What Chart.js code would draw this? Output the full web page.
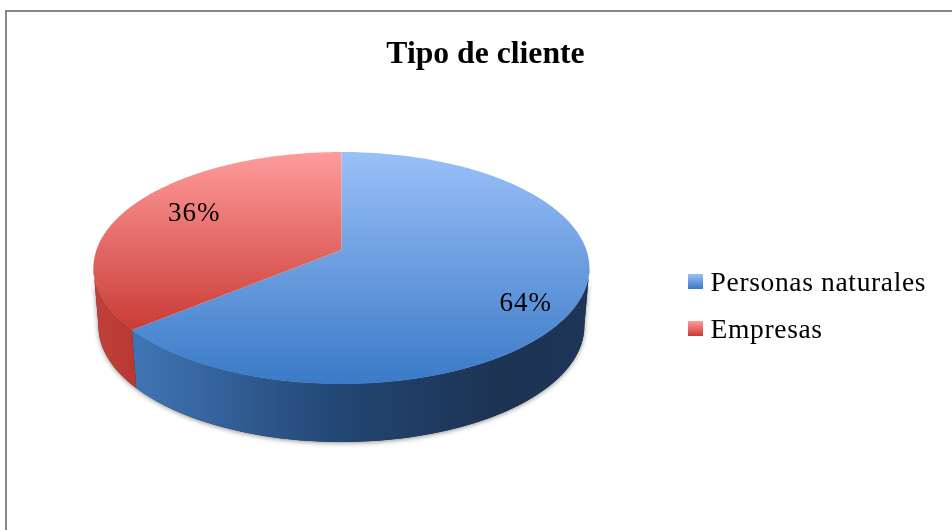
<!DOCTYPE html>
<html><head><meta charset="utf-8">
<script src="https://cdn.jsdelivr.net/npm/chart.js@4"></script>
<style>html,body{margin:0;padding:0;background:#fff}canvas{display:block}</style>
</head><body><canvas id="c" width="952" height="530"></canvas>
<script>
const titleText = "Tipo de cliente";
const categories = ["Personas naturales", "Empresas"];
const shares = [64, 36];
const topColors = [["#9AC0F8", "#3A7AC7"], ["#FF9C9C", "#C93A34"]];
const serif = '"Liberation Serif"';
const P = 0.155, R_TOP = 245, R_BOT = 240, A = 113.2, APEX_Y = 250, BOT_Y = 308;

function project(cx, rad, y0, th, r) {
  const s = Math.sin(th), c = Math.cos(th), d = 1 + P * r * c;
  return [cx + rad * r * s / d, y0 - A * r * c / d];
}
function swatch(cols) {
  const k = document.createElement("canvas"); k.width = 15; k.height = 19;
  const x = k.getContext("2d"), g = x.createLinearGradient(0, 0, 0, 15);
  g.addColorStop(0, cols[0]); g.addColorStop(1, cols[1]);
  x.fillStyle = g; x.fillRect(0, 0, 15, 15); return k;
}
function wallPath(ctx, cx, a, b) {
  const n = 80;
  ctx.beginPath();
  for (let i = 0; i <= n; i++) { const p = project(cx, R_TOP, APEX_Y, a + (b - a) * i / n, 1); i ? ctx.lineTo(p[0], p[1]) : ctx.moveTo(p[0], p[1]); }
  for (let i = n; i >= 0; i--) { const p = project(cx, R_BOT, BOT_Y, a + (b - a) * i / n, 1); ctx.lineTo(p[0], p[1]); }
  ctx.closePath();
}
const THL = Math.PI / 2 + Math.asin(P), THR = 3 * Math.PI / 2 - Math.asin(P);

const pie3d = {
  id: "pie3d",
  afterLayout(chart) {
    const lg = chart.legend, tb = chart.titleBlock;
    tb.left += 19; tb.right += 19;
    lg.left += 10.5; lg.right = 952; lg.top += 42; lg.bottom += 42;
    if (!lg._spaced) {
      lg._spaced = true;
      const d = lg.draw;
      lg.draw = function () { const c = this.ctx; c.letterSpacing = "0.65px"; d.apply(this, arguments); c.letterSpacing = "0px"; };
    }
  },
  afterDatasetsUpdate(chart) {
    chart.getDatasetMeta(0).data.forEach((el, i) => {
      el.draw = function (ctx) {
        const a = this.startAngle + Math.PI / 2, b = this.endAngle + Math.PI / 2, n = 160;
        const cx = this.x;
        const g = ctx.createLinearGradient(0, 152, 0, i === 0 ? 384 : 333);
        g.addColorStop(0, topColors[i][0]); g.addColorStop(1, topColors[i][1]);
        ctx.beginPath(); ctx.moveTo(cx, APEX_Y);
        for (let k = 0; k <= n; k++) { const p = project(cx, R_TOP, APEX_Y, a + (b - a) * k / n, 1); ctx.lineTo(p[0], p[1]); }
        ctx.closePath(); ctx.fillStyle = g; ctx.fill();
      };
    });
  },
  beforeDraw(chart) {
    const ctx = chart.ctx;
    ctx.save(); ctx.fillStyle = "#868686";
    ctx.fillRect(5, 10, 947, 2); ctx.fillRect(5, 10, 2, 520); ctx.restore();
  },
  beforeDatasetsDraw(chart) {
    const ctx = chart.ctx, arcs = chart.getDatasetMeta(0).data, cx = arcs[0].x;
    ctx.save();
    ctx.shadowColor = "rgba(0,0,0,0.45)"; ctx.shadowBlur = 5; ctx.shadowOffsetX = 0; ctx.shadowOffsetY = 1;
    wallPath(ctx, cx, THL, THR); ctx.fillStyle = "#223"; ctx.fill();
    ctx.restore();
    const blue = ctx.createLinearGradient(cx - 205, 0, cx + 245, 0);
    blue.addColorStop(0, "#3F74B4"); blue.addColorStop(0.45, "#234673"); blue.addColorStop(0.8, "#1C3354"); blue.addColorStop(1, "#1E3558");
    const red = ctx.createLinearGradient(cx - 248, 0, cx - 205, 0);
    red.addColorStop(0, "#C0413B"); red.addColorStop(1, "#B93732");
    const b0 = arcs[0].endAngle + Math.PI / 2;
    wallPath(ctx, cx, THL, b0); ctx.fillStyle = blue; ctx.fill();
    wallPath(ctx, cx, b0, THR); ctx.fillStyle = red; ctx.fill();
  },
  afterDatasetsDraw(chart) {
    const ctx = chart.ctx, arcs = chart.getDatasetMeta(0).data;
    const rr = [0.8, 0.68], dy = [13, -5], dx = [-3, -3];
    ctx.save();
    ctx.font = "27px " + serif; ctx.fillStyle = "#000"; ctx.textAlign = "center"; ctx.textBaseline = "middle";
    ctx.letterSpacing = "1px";
    arcs.forEach((el, i) => {
      const m = (el.startAngle + el.endAngle) / 2 + Math.PI / 2;
      const p = project(el.x, R_TOP, APEX_Y, m, rr[i]);
      ctx.fillText(shares[i] + "%", p[0] + dx[i], p[1] + dy[i]);
    });
    ctx.restore();
  }
};

new Chart(document.getElementById("c"), {
  type: "pie",
  data: { labels: categories, datasets: [{ data: shares, borderWidth: 0, backgroundColor: topColors.map(c => c[1]) }] },
  plugins: [pie3d],
  options: {
    responsive: false, animation: false, rotation: 0,
    layout: { padding: { left: 19, top: 0, right: 38, bottom: 0 } },
    plugins: {
      tooltip: { enabled: false },
      title: { display: true, text: titleText, color: "#000", font: { family: serif, size: 31.7, weight: "bold" }, padding: { top: 36, bottom: 6 } },
      legend: {
        display: true, position: "right",
        labels: {
          color: "#000", font: { family: serif, size: 27.5 }, padding: 19.5, boxWidth: 3, boxHeight: 15, usePointStyle: true,
          generateLabels: () => categories.map((t, i) => ({ text: t, pointStyle: swatch(topColors[i]), hidden: false, index: i, lineWidth: 0, fillStyle: topColors[i][1], strokeStyle: "transparent", fontColor: "#000" }))
        }
      }
    }
  }
});
</script></body></html>
